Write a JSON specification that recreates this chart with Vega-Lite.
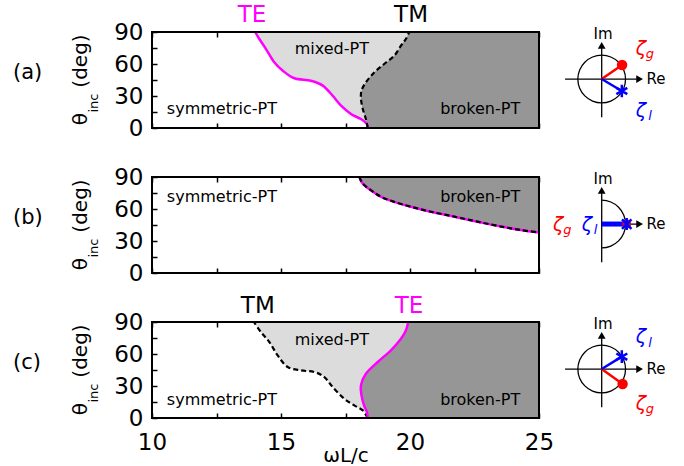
{
"$schema":"https://vega.github.io/schema/vega-lite/v6.json",
"padding":{"left":12,"top":4,"right":5,"bottom":0},
"config":{"font":"DejaVu Sans","view":{"stroke":null},
"axis":{"domain":false,"grid":false,"ticks":true,"tickColor":"black","tickWidth":1.5,"tickSize":5,"offset":-5,"labelFontSize":23,"labelColor":"black","labelFlush":false,"labelOverlap":false,"titleColor":"black","titleFontWeight":"normal","zindex":1,"labelFont":"DejaVu Sans","titleFont":"DejaVu Sans"},
"text":{"font":"DejaVu Sans"}},
"datasets":{
"a_te":[{"x":14.0,"y":90},{"x":14.16,"y":83.4},{"x":14.42,"y":74},{"x":14.74,"y":61.6},{"x":15.07,"y":53.7},{"x":15.52,"y":46.6},{"x":16.16,"y":44.3},{"x":16.62,"y":39.7},{"x":17.0,"y":30.3},{"x":17.33,"y":20.9},{"x":17.71,"y":13.1},{"x":18.1,"y":8.4},{"x":18.33,"y":3.75},{"x":18.36,"y":0}],
"a_tm":[{"x":19.97,"y":90},{"x":19.84,"y":83.4},{"x":19.65,"y":77.2},{"x":19.39,"y":67.8},{"x":19.0,"y":60},{"x":18.62,"y":52.2},{"x":18.29,"y":42.8},{"x":18.12,"y":35},{"x":18.1,"y":27.2},{"x":18.17,"y":17.8},{"x":18.29,"y":8.4},{"x":18.36,"y":0}],
"b_edge":[{"x":18.04,"y":90},{"x":18.17,"y":83.8},{"x":18.49,"y":77.5},{"x":18.88,"y":71.4},{"x":19.39,"y":66.7},{"x":20.04,"y":62.1},{"x":20.81,"y":57.4},{"x":21.72,"y":52.8},{"x":22.62,"y":48.1},{"x":23.53,"y":43.5},{"x":24.3,"y":40.3},{"x":25.0,"y":37.9}],
"c_tm":[{"x":13.95,"y":90},{"x":14.22,"y":80.6},{"x":14.55,"y":71.2},{"x":14.87,"y":58.7},{"x":15.26,"y":47.8},{"x":15.78,"y":44.6},{"x":16.29,"y":43.1},{"x":16.68,"y":38.4},{"x":17.0,"y":29.1},{"x":17.45,"y":18.1},{"x":17.84,"y":11.8},{"x":18.17,"y":7.1},{"x":18.36,"y":0}],
"c_te":[{"x":19.93,"y":90},{"x":19.84,"y":82.1},{"x":19.65,"y":74.3},{"x":19.26,"y":63.4},{"x":18.75,"y":52.5},{"x":18.29,"y":41.5},{"x":18.1,"y":30.6},{"x":18.12,"y":21.2},{"x":18.22,"y":11.8},{"x":18.33,"y":5.6},{"x":18.36,"y":0}],
"a_txt":[{"t":"symmetric-PT","x":12.71,"y":17.8},{"t":"mixed-PT","x":16.97,"y":74},{"t":"broken-PT","x":22.72,"y":17.8}],
"b_txt":[{"t":"symmetric-PT","x":12.71,"y":71.4},{"t":"broken-PT","x":22.72,"y":71.4}],
"c_txt":[{"t":"symmetric-PT","x":12.71,"y":16.5},{"t":"mixed-PT","x":16.97,"y":72.8},{"t":"broken-PT","x":22.72,"y":16.5}],
"imre":[{"t":"Im","x":27.48,"y":88},{"t":"Re","x":29.53,"y":45.9}]
},
"spacing":49,
"bounds":"flush",
"vconcat":[
{"width":387,"height":96,"resolve":{"axis":{"x":"independent","y":"independent"}},
"layer":[
{"data":{"name":"a_te"},"mark":{"type":"area","orient":"horizontal","interpolate":"cardinal","color":"#dcdcdc"},"encoding":{"y":{"field":"y","type":"quantitative","scale":{"domain":[0,90],"nice":false,"zero":false},"axis":{"orient":"left","values":[0,30,60,90],"title":null,"labelPadding":9,"labelOverlap":false}},"x":{"field":"x","type":"quantitative","scale":{"domain":[10,25],"nice":false,"zero":false},"axis":{"orient":"bottom","values":[10,12.5,15,17.5,20,22.5,25],"labels":false,"title":null}},"x2":{"datum":25}}},
{"data":{"name":"a_tm"},"mark":{"type":"area","orient":"horizontal","interpolate":"cardinal","color":"#969696"},"encoding":{"y":{"field":"y","type":"quantitative","axis":{"orient":"left","values":[15,45,75],"labels":false,"title":null}},"x":{"field":"x","type":"quantitative","axis":{"orient":"top","values":[10,12.5,15,17.5,20,22.5,25],"labels":false,"title":null}},"x2":{"datum":25}}},
{"data":{"name":"a_te"},"mark":{"type":"line","interpolate":"cardinal","color":"#ff00ff","strokeWidth":2.5},"encoding":{"x":{"field":"x","type":"quantitative","axis":null},"y":{"field":"y","type":"quantitative","axis":null},"order":{"field":"y","type":"quantitative"}}},
{"data":{"name":"a_tm"},"mark":{"type":"line","interpolate":"cardinal","color":"black","strokeWidth":2.2,"strokeDash":[5,3]},"encoding":{"x":{"field":"x","type":"quantitative","axis":null},"y":{"field":"y","type":"quantitative","axis":null},"order":{"field":"y","type":"quantitative"}}},
{"data":{"name":"a_txt"},"mark":{"type":"text","fontSize":16,"color":"black"},"encoding":{"x":{"field":"x","type":"quantitative","axis":null},"y":{"field":"y","type":"quantitative","axis":null},"text":{"field":"t"}}},
{"data":{"values":[{}]},"mark":{"type":"text","text":"TE","fontSize":23,"color":"#ff00ff","baseline":"alphabetic","dy":-10},"encoding":{"x":{"datum":13.88,"type":"quantitative","axis":null},"y":{"datum":90,"type":"quantitative","axis":null}}},
{"data":{"values":[{}]},"mark":{"type":"text","text":"TM","fontSize":23,"color":"black","baseline":"alphabetic","dy":-10},"encoding":{"x":{"datum":20.04,"type":"quantitative","axis":null},"y":{"datum":90,"type":"quantitative","axis":null}}},
{"data":{"values":[{}]},"mark":{"type":"text","text":"(a)","fontSize":21,"align":"left","color":"black"},"encoding":{"x":{"datum":4.61,"type":"quantitative","axis":null},"y":{"datum":52,"type":"quantitative","axis":null}}},
{"data":{"values":[{}]},"mark":{"type":"text","text":"θ","fontSize":20,"angle":270,"color":"black"},"encoding":{"x":{"datum":7.25,"type":"quantitative","axis":null},"y":{"datum":8.4,"type":"quantitative","axis":null}}},
{"data":{"values":[{}]},"mark":{"type":"text","text":"inc","fontSize":13,"angle":270,"color":"black"},"encoding":{"x":{"datum":7.75,"type":"quantitative","axis":null},"y":{"datum":23.4,"type":"quantitative","axis":null}}},
{"data":{"values":[{}]},"mark":{"type":"text","text":"(deg)","fontSize":20,"angle":270,"color":"black"},"encoding":{"x":{"datum":7.25,"type":"quantitative","axis":null},"y":{"datum":62.8,"type":"quantitative","axis":null}}},
{"data":{"values":[{}]},"mark":{"type":"arc","radius":24.5,"radius2":23.2,"theta":0,"theta2":6.2832,"color":"black"},"encoding":{"x":{"datum":27.43,"type":"quantitative","axis":null},"y":{"datum":45.9,"type":"quantitative","axis":null}}},
{"data":{"values":[{}]},"mark":{"type":"rule","color":"black","strokeWidth":1.3},"encoding":{"x":{"datum":27.43,"type":"quantitative","axis":null},"y":{"datum":10,"type":"quantitative","axis":null},"y2":{"datum":77}}},
{"data":{"values":[{}]},"mark":{"type":"rule","color":"black","strokeWidth":1.3},"encoding":{"x":{"datum":26.01,"type":"quantitative","axis":null},"x2":{"datum":28.86},"y":{"datum":45.9,"type":"quantitative","axis":null}}},
{"data":{"values":[{}]},"mark":{"type":"point","shape":"triangle-up","filled":true,"size":60,"color":"black","opacity":1},"encoding":{"x":{"datum":27.43,"type":"quantitative","axis":null},"y":{"datum":77.5,"type":"quantitative","axis":null}}},
{"data":{"values":[{}]},"mark":{"type":"point","shape":"triangle-right","filled":true,"size":60,"color":"black","opacity":1},"encoding":{"x":{"datum":28.9,"type":"quantitative","axis":null},"y":{"datum":45.9,"type":"quantitative","axis":null}}},
{"data":{"name":"imre"},"mark":{"type":"text","fontSize":15,"color":"black"},"encoding":{"x":{"field":"x","type":"quantitative","axis":null},"y":{"field":"y","type":"quantitative","axis":null},"text":{"field":"t"}}},
{"data":{"values":[{}]},"mark":{"type":"rule","color":"#ff0000","strokeWidth":2.5},"encoding":{"x":{"datum":27.43,"type":"quantitative","axis":null},"y":{"datum":45.9,"type":"quantitative","axis":null},"x2":{"datum":28.22},"y2":{"datum":59.1}}},
{"data":{"values":[{}]},"mark":{"type":"point","shape":"circle","filled":true,"size":110,"color":"#ff0000","opacity":1},"encoding":{"x":{"datum":28.22,"type":"quantitative","axis":null},"y":{"datum":59.1,"type":"quantitative","axis":null}}},
{"data":{"values":[{}]},"mark":{"type":"rule","color":"#0000ff","strokeWidth":2.5},"encoding":{"x":{"datum":27.43,"type":"quantitative","axis":null},"y":{"datum":45.9,"type":"quantitative","axis":null},"x2":{"datum":28.21},"y2":{"datum":34.7}}},
{"data":{"values":[{}]},"mark":{"type":"point","shape":"M0,-1L0,1M-0.866,-0.5L0.866,0.5M-0.866,0.5L0.866,-0.5","filled":false,"size":160,"strokeWidth":2.5,"color":"#0000ff","opacity":1},"encoding":{"x":{"datum":28.21,"type":"quantitative","axis":null},"y":{"datum":34.7,"type":"quantitative","axis":null}}},
{"data":{"values":[{}]},"mark":{"type":"text","text":"ζ","fontSize":19,"fontStyle":"italic","color":"#ff0000"},"encoding":{"x":{"datum":28.95,"type":"quantitative","axis":null},"y":{"datum":74,"type":"quantitative","axis":null}}},
{"data":{"values":[{}]},"mark":{"type":"text","text":"g","fontSize":13,"fontStyle":"italic","color":"#ff0000"},"encoding":{"x":{"datum":29.3,"type":"quantitative","axis":null},"y":{"datum":69,"type":"quantitative","axis":null}}},
{"data":{"values":[{}]},"mark":{"type":"text","text":"ζ","fontSize":19,"fontStyle":"italic","color":"#0000ff"},"encoding":{"x":{"datum":28.95,"type":"quantitative","axis":null},"y":{"datum":15.9,"type":"quantitative","axis":null}}},
{"data":{"values":[{}]},"mark":{"type":"text","text":"l","fontSize":13,"fontStyle":"italic","color":"#0000ff"},"encoding":{"x":{"datum":29.3,"type":"quantitative","axis":null},"y":{"datum":11,"type":"quantitative","axis":null}}},
{"data":{"values":[{}]},"mark":{"type":"rect","fill":null,"fillOpacity":0,"stroke":"black","strokeWidth":2},"encoding":{"x":{"datum":10,"type":"quantitative","axis":null},"x2":{"datum":25},"y":{"datum":0,"type":"quantitative","axis":null},"y2":{"datum":90}}}
]},
{"width":387,"height":96,"resolve":{"axis":{"x":"independent","y":"independent"}},
"layer":[
{"data":{"name":"b_edge"},"mark":{"type":"area","interpolate":"cardinal","color":"#969696"},"encoding":{"x":{"field":"x","type":"quantitative","scale":{"domain":[10,25],"nice":false,"zero":false},"axis":{"orient":"bottom","values":[10,12.5,15,17.5,20,22.5,25],"labels":false,"title":null}},"y":{"field":"y","type":"quantitative","scale":{"domain":[0,90],"nice":false,"zero":false},"axis":{"orient":"left","values":[0,30,60,90],"title":null,"labelPadding":9,"labelOverlap":false}},"y2":{"datum":90}}},
{"data":{"name":"b_edge"},"mark":{"type":"line","interpolate":"cardinal","color":"#ff00ff","strokeWidth":2.5},"encoding":{"x":{"field":"x","type":"quantitative","axis":{"orient":"top","values":[10,12.5,15,17.5,20,22.5,25],"labels":false,"title":null}},"y":{"field":"y","type":"quantitative","axis":{"orient":"left","values":[15,45,75],"labels":false,"title":null}}}},
{"data":{"name":"b_edge"},"mark":{"type":"line","interpolate":"cardinal","color":"black","strokeWidth":2.2,"strokeDash":[5,3]},"encoding":{"x":{"field":"x","type":"quantitative","axis":null},"y":{"field":"y","type":"quantitative","axis":null}}},
{"data":{"name":"b_txt"},"mark":{"type":"text","fontSize":16,"color":"black"},"encoding":{"x":{"field":"x","type":"quantitative","axis":null},"y":{"field":"y","type":"quantitative","axis":null},"text":{"field":"t"}}},
{"data":{"values":[{}]},"mark":{"type":"text","text":"(b)","fontSize":21,"align":"left","color":"black"},"encoding":{"x":{"datum":4.61,"type":"quantitative","axis":null},"y":{"datum":52,"type":"quantitative","axis":null}}},
{"data":{"values":[{}]},"mark":{"type":"text","text":"θ","fontSize":20,"angle":270,"color":"black"},"encoding":{"x":{"datum":7.25,"type":"quantitative","axis":null},"y":{"datum":8.4,"type":"quantitative","axis":null}}},
{"data":{"values":[{}]},"mark":{"type":"text","text":"inc","fontSize":13,"angle":270,"color":"black"},"encoding":{"x":{"datum":7.75,"type":"quantitative","axis":null},"y":{"datum":23.4,"type":"quantitative","axis":null}}},
{"data":{"values":[{}]},"mark":{"type":"text","text":"(deg)","fontSize":20,"angle":270,"color":"black"},"encoding":{"x":{"datum":7.25,"type":"quantitative","axis":null},"y":{"datum":62.8,"type":"quantitative","axis":null}}},
{"data":{"values":[{}]},"mark":{"type":"arc","radius":24.5,"radius2":23.2,"theta":0,"theta2":3.1416,"color":"black"},"encoding":{"x":{"datum":27.43,"type":"quantitative","axis":null},"y":{"datum":45.9,"type":"quantitative","axis":null}}},
{"data":{"values":[{}]},"mark":{"type":"rule","color":"black","strokeWidth":1.3},"encoding":{"x":{"datum":27.43,"type":"quantitative","axis":null},"y":{"datum":10,"type":"quantitative","axis":null},"y2":{"datum":77}}},
{"data":{"values":[{}]},"mark":{"type":"rule","color":"black","strokeWidth":1.3},"encoding":{"x":{"datum":27.43,"type":"quantitative","axis":null},"x2":{"datum":28.86},"y":{"datum":45.9,"type":"quantitative","axis":null}}},
{"data":{"values":[{}]},"mark":{"type":"point","shape":"triangle-up","filled":true,"size":60,"color":"black","opacity":1},"encoding":{"x":{"datum":27.43,"type":"quantitative","axis":null},"y":{"datum":77.5,"type":"quantitative","axis":null}}},
{"data":{"values":[{}]},"mark":{"type":"point","shape":"triangle-right","filled":true,"size":60,"color":"black","opacity":1},"encoding":{"x":{"datum":28.9,"type":"quantitative","axis":null},"y":{"datum":45.9,"type":"quantitative","axis":null}}},
{"data":{"name":"imre"},"mark":{"type":"text","fontSize":15,"color":"black"},"encoding":{"x":{"field":"x","type":"quantitative","axis":null},"y":{"field":"y","type":"quantitative","axis":null},"text":{"field":"t"}}},
{"data":{"values":[{}]},"mark":{"type":"rule","color":"#0000ff","strokeWidth":5},"encoding":{"x":{"datum":27.43,"type":"quantitative","axis":null},"x2":{"datum":28.4},"y":{"datum":45.9,"type":"quantitative","axis":null}}},
{"data":{"values":[{}]},"mark":{"type":"point","shape":"circle","filled":true,"size":80,"color":"#ff0000","opacity":1},"encoding":{"x":{"datum":28.4,"type":"quantitative","axis":null},"y":{"datum":45.9,"type":"quantitative","axis":null}}},
{"data":{"values":[{}]},"mark":{"type":"point","shape":"M-0.8,-0.8L0.8,0.8M-0.8,0.8L0.8,-0.8M0,-1L0,1","filled":false,"size":140,"strokeWidth":2.5,"color":"#0000ff","opacity":1},"encoding":{"x":{"datum":28.4,"type":"quantitative","axis":null},"y":{"datum":45.9,"type":"quantitative","axis":null}}},
{"data":{"values":[{}]},"mark":{"type":"text","text":"ζ","fontSize":19,"fontStyle":"italic","color":"#0000ff"},"encoding":{"x":{"datum":26.86,"type":"quantitative","axis":null},"y":{"datum":45,"type":"quantitative","axis":null}}},
{"data":{"values":[{}]},"mark":{"type":"text","text":"l","fontSize":13,"fontStyle":"italic","color":"#0000ff"},"encoding":{"x":{"datum":27.19,"type":"quantitative","axis":null},"y":{"datum":40,"type":"quantitative","axis":null}}},
{"data":{"values":[{}]},"mark":{"type":"text","text":"ζ","fontSize":19,"fontStyle":"italic","color":"#ff0000"},"encoding":{"x":{"datum":25.74,"type":"quantitative","axis":null},"y":{"datum":45,"type":"quantitative","axis":null}}},
{"data":{"values":[{}]},"mark":{"type":"text","text":"g","fontSize":13,"fontStyle":"italic","color":"#ff0000"},"encoding":{"x":{"datum":26.1,"type":"quantitative","axis":null},"y":{"datum":40,"type":"quantitative","axis":null}}},
{"data":{"values":[{}]},"mark":{"type":"rect","fill":null,"fillOpacity":0,"stroke":"black","strokeWidth":2},"encoding":{"x":{"datum":10,"type":"quantitative","axis":null},"x2":{"datum":25},"y":{"datum":0,"type":"quantitative","axis":null},"y2":{"datum":90}}}
]},
{"width":387,"height":96,"resolve":{"axis":{"x":"independent","y":"independent"}},
"layer":[
{"data":{"name":"c_tm"},"mark":{"type":"area","orient":"horizontal","interpolate":"cardinal","color":"#dcdcdc"},"encoding":{"y":{"field":"y","type":"quantitative","scale":{"domain":[0,90],"nice":false,"zero":false},"axis":{"orient":"left","values":[0,30,60,90],"title":null,"labelPadding":9,"labelOverlap":false}},"x":{"field":"x","type":"quantitative","scale":{"domain":[10,25],"nice":false,"zero":false},"axis":{"orient":"bottom","values":[10,12.5,15,17.5,20,22.5,25],"labelExpr":"datum.value % 5 === 0 ? ''+datum.value : ''","labelPadding":13,"labelOverlap":false,"title":"ωL/c","titleFontSize":20,"titlePadding":-9}},"x2":{"datum":25}}},
{"data":{"name":"c_te"},"mark":{"type":"area","orient":"horizontal","interpolate":"cardinal","color":"#969696"},"encoding":{"y":{"field":"y","type":"quantitative","axis":{"orient":"left","values":[15,45,75],"labels":false,"title":null}},"x":{"field":"x","type":"quantitative","axis":{"orient":"top","values":[10,12.5,15,17.5,20,22.5,25],"labels":false,"title":null}},"x2":{"datum":25}}},
{"data":{"name":"c_tm"},"mark":{"type":"line","interpolate":"cardinal","color":"black","strokeWidth":2.2,"strokeDash":[5,3]},"encoding":{"x":{"field":"x","type":"quantitative","axis":null},"y":{"field":"y","type":"quantitative","axis":null},"order":{"field":"y","type":"quantitative"}}},
{"data":{"name":"c_te"},"mark":{"type":"line","interpolate":"cardinal","color":"#ff00ff","strokeWidth":2.5},"encoding":{"x":{"field":"x","type":"quantitative","axis":null},"y":{"field":"y","type":"quantitative","axis":null},"order":{"field":"y","type":"quantitative"}}},
{"data":{"name":"c_txt"},"mark":{"type":"text","fontSize":16,"color":"black"},"encoding":{"x":{"field":"x","type":"quantitative","axis":null},"y":{"field":"y","type":"quantitative","axis":null},"text":{"field":"t"}}},
{"data":{"values":[{}]},"mark":{"type":"text","text":"TM","fontSize":23,"color":"black","baseline":"alphabetic","dy":-9},"encoding":{"x":{"datum":14.1,"type":"quantitative","axis":null},"y":{"datum":90,"type":"quantitative","axis":null}}},
{"data":{"values":[{}]},"mark":{"type":"text","text":"TE","fontSize":23,"color":"#ff00ff","baseline":"alphabetic","dy":-9},"encoding":{"x":{"datum":19.96,"type":"quantitative","axis":null},"y":{"datum":90,"type":"quantitative","axis":null}}},
{"data":{"values":[{}]},"mark":{"type":"text","text":"(c)","fontSize":21,"align":"left","color":"black"},"encoding":{"x":{"datum":4.61,"type":"quantitative","axis":null},"y":{"datum":52,"type":"quantitative","axis":null}}},
{"data":{"values":[{}]},"mark":{"type":"text","text":"θ","fontSize":20,"angle":270,"color":"black"},"encoding":{"x":{"datum":7.25,"type":"quantitative","axis":null},"y":{"datum":8.4,"type":"quantitative","axis":null}}},
{"data":{"values":[{}]},"mark":{"type":"text","text":"inc","fontSize":13,"angle":270,"color":"black"},"encoding":{"x":{"datum":7.75,"type":"quantitative","axis":null},"y":{"datum":23.4,"type":"quantitative","axis":null}}},
{"data":{"values":[{}]},"mark":{"type":"text","text":"(deg)","fontSize":20,"angle":270,"color":"black"},"encoding":{"x":{"datum":7.25,"type":"quantitative","axis":null},"y":{"datum":62.8,"type":"quantitative","axis":null}}},
{"data":{"values":[{}]},"mark":{"type":"arc","radius":24.5,"radius2":23.2,"theta":0,"theta2":6.2832,"color":"black"},"encoding":{"x":{"datum":27.43,"type":"quantitative","axis":null},"y":{"datum":45.9,"type":"quantitative","axis":null}}},
{"data":{"values":[{}]},"mark":{"type":"rule","color":"black","strokeWidth":1.3},"encoding":{"x":{"datum":27.43,"type":"quantitative","axis":null},"y":{"datum":10,"type":"quantitative","axis":null},"y2":{"datum":77}}},
{"data":{"values":[{}]},"mark":{"type":"rule","color":"black","strokeWidth":1.3},"encoding":{"x":{"datum":26.01,"type":"quantitative","axis":null},"x2":{"datum":28.86},"y":{"datum":45.9,"type":"quantitative","axis":null}}},
{"data":{"values":[{}]},"mark":{"type":"point","shape":"triangle-up","filled":true,"size":60,"color":"black","opacity":1},"encoding":{"x":{"datum":27.43,"type":"quantitative","axis":null},"y":{"datum":77.5,"type":"quantitative","axis":null}}},
{"data":{"values":[{}]},"mark":{"type":"point","shape":"triangle-right","filled":true,"size":60,"color":"black","opacity":1},"encoding":{"x":{"datum":28.9,"type":"quantitative","axis":null},"y":{"datum":45.9,"type":"quantitative","axis":null}}},
{"data":{"name":"imre"},"mark":{"type":"text","fontSize":15,"color":"black"},"encoding":{"x":{"field":"x","type":"quantitative","axis":null},"y":{"field":"y","type":"quantitative","axis":null},"text":{"field":"t"}}},
{"data":{"values":[{}]},"mark":{"type":"rule","color":"#ff0000","strokeWidth":2.5},"encoding":{"x":{"datum":27.43,"type":"quantitative","axis":null},"y":{"datum":45.9,"type":"quantitative","axis":null},"x2":{"datum":28.24},"y2":{"datum":31.9}}},
{"data":{"values":[{}]},"mark":{"type":"point","shape":"circle","filled":true,"size":110,"color":"#ff0000","opacity":1},"encoding":{"x":{"datum":28.24,"type":"quantitative","axis":null},"y":{"datum":31.9,"type":"quantitative","axis":null}}},
{"data":{"values":[{}]},"mark":{"type":"rule","color":"#0000ff","strokeWidth":2.5},"encoding":{"x":{"datum":27.43,"type":"quantitative","axis":null},"y":{"datum":45.9,"type":"quantitative","axis":null},"x2":{"datum":28.21},"y2":{"datum":57.5}}},
{"data":{"values":[{}]},"mark":{"type":"point","shape":"M0,-1L0,1M-0.866,-0.5L0.866,0.5M-0.866,0.5L0.866,-0.5","filled":false,"size":160,"strokeWidth":2.5,"color":"#0000ff","opacity":1},"encoding":{"x":{"datum":28.21,"type":"quantitative","axis":null},"y":{"datum":57.5,"type":"quantitative","axis":null}}},
{"data":{"values":[{}]},"mark":{"type":"text","text":"ζ","fontSize":19,"fontStyle":"italic","color":"#0000ff"},"encoding":{"x":{"datum":28.95,"type":"quantitative","axis":null},"y":{"datum":75.5,"type":"quantitative","axis":null}}},
{"data":{"values":[{}]},"mark":{"type":"text","text":"l","fontSize":13,"fontStyle":"italic","color":"#0000ff"},"encoding":{"x":{"datum":29.3,"type":"quantitative","axis":null},"y":{"datum":70.5,"type":"quantitative","axis":null}}},
{"data":{"values":[{}]},"mark":{"type":"text","text":"ζ","fontSize":19,"fontStyle":"italic","color":"#ff0000"},"encoding":{"x":{"datum":28.95,"type":"quantitative","axis":null},"y":{"datum":13.1,"type":"quantitative","axis":null}}},
{"data":{"values":[{}]},"mark":{"type":"text","text":"g","fontSize":13,"fontStyle":"italic","color":"#ff0000"},"encoding":{"x":{"datum":29.3,"type":"quantitative","axis":null},"y":{"datum":8,"type":"quantitative","axis":null}}},
{"data":{"values":[{}]},"mark":{"type":"rect","fill":null,"fillOpacity":0,"stroke":"black","strokeWidth":2},"encoding":{"x":{"datum":10,"type":"quantitative","axis":null},"x2":{"datum":25},"y":{"datum":0,"type":"quantitative","axis":null},"y2":{"datum":90}}}
]}
]
}
